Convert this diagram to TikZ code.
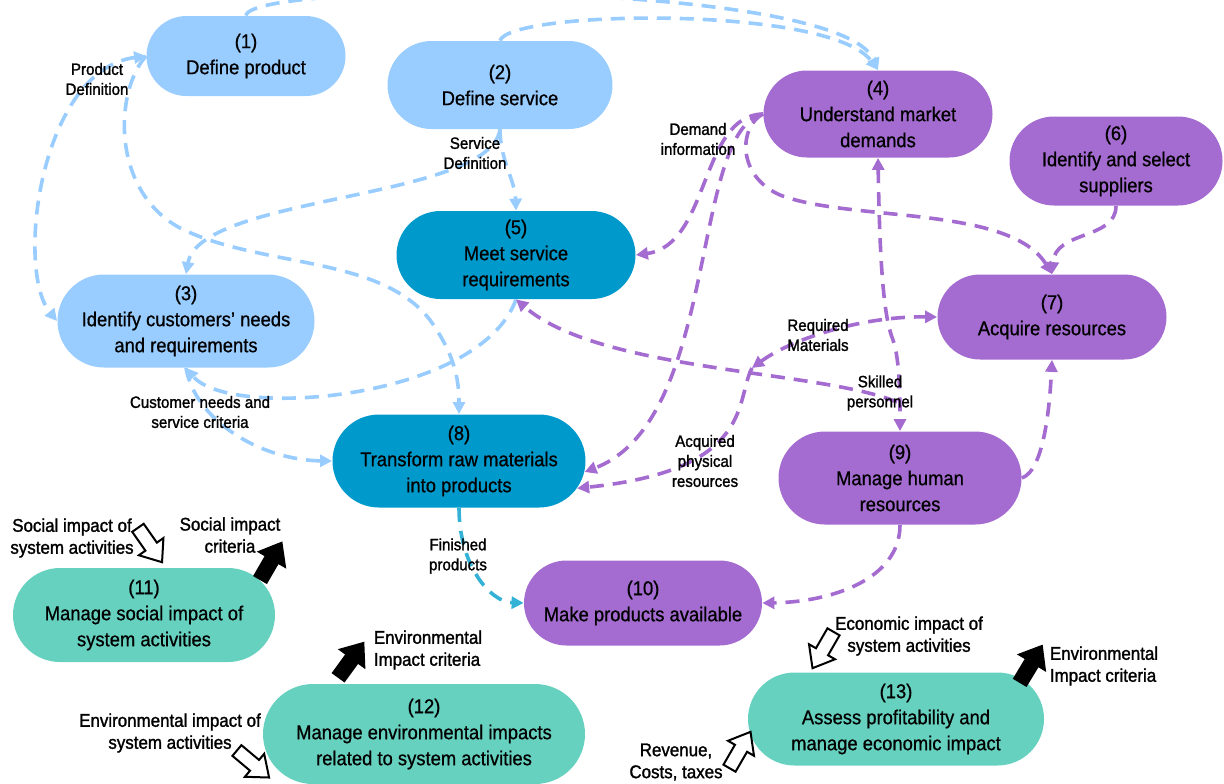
\documentclass[tikz,border=0pt]{standalone}
\usepackage{fontspec}
\setmainfont{Liberation Sans}[FakeStretch=0.92,BoldFont={Liberation Sans},BoldFeatures={FakeBold=0.7}]
\newfontfamily\lblfont{Liberation Sans}[FakeStretch=0.92,BoldFont={Liberation Sans},BoldFeatures={FakeBold=1.4}]
\usetikzlibrary{shapes.misc,arrows.meta,positioning}

\definecolor{lblue}{HTML}{99CCFF}
\definecolor{dblue}{HTML}{0099CC}
\definecolor{lilac}{HTML}{A46BD0}
\definecolor{mint}{HTML}{66D1BF}
\definecolor{cyanln}{HTML}{33B2D6}

% fat block arrow: fill, position, angle
\newcommand{\blockarrow}[3]{%
  \begin{scope}[shift={#2},rotate=#3]
    \draw[line width=1pt,fill=#1](-21,-7)--(2,-7)--(2,-15)--(21,0)--(2,15)--(2,7)--(-21,7)--cycle;
  \end{scope}}

\begin{document}
\begin{tikzpicture}[x=0.5pt,y=-0.5pt,font=\bfseries\fontsize{10}{13}\selectfont,
  >={Triangle[length=6pt,width=6pt]},
  proc/.style={rounded rectangle,inner sep=0pt,align=center},
  sz/.style 2 args={minimum width=#1*0.5pt,minimum height=#2*0.5pt},
  lbl/.style={font=\lblfont\bfseries\fontsize{8.2}{10}\selectfont,align=center,inner sep=0pt},
  imp/.style={font=\lblfont\bfseries\fontsize{9.2}{11}\selectfont,align=center,inner sep=0pt},
  flow/.style={line width=1.8pt,dash pattern=on 7pt off 4.5pt,->},
  flowb/.style={flow,draw=lblue,color=lblue},
  flowp/.style={flow,draw=lilac,color=lilac},
  flowc/.style={flow,draw=cyanln,color=cyanln}]
  \useasboundingbox(0,0)rectangle(1224,783);

  \node[proc,fill=lblue,sz={199}{80}] (n1) at (246,56) {(1)\\Define product};
  \node[proc,fill=lblue,sz={225}{88}] (n2) at (500,85) {(2)\\Define service};
  \node[proc,fill=lblue,sz={257}{93}] (n3) at (186,321) {(3)\\Identify customers’ needs\\and requirements};
  \node[proc,fill=lilac,sz={229}{87}] (n4) at (878,114) {(4)\\Understand market\\demands};
  \node[proc,fill=dblue,sz={239}{88}] (n5) at (516,255) {(5)\\Meet service\\requirements};
  \node[proc,fill=lilac,sz={213}{89}] (n6) at (1116,161) {(6)\\Identify and select\\suppliers};
  \node[proc,fill=lilac,sz={229}{85}] (n7) at (1052,317) {(7)\\Acquire resources};
  \node[proc,fill=dblue,sz={253}{93}] (n8) at (459,461) {(8)\\Transform raw materials\\into products};
  \node[proc,fill=lilac,sz={243}{93}] (n9) at (900,478) {(9)\\Manage human\\resources};
  \node[proc,fill=lilac,sz={238}{85}] (n10) at (643,603) {(10)\\Make products available};
  \node[proc,fill=mint,sz={262}{94}] (n11) at (144,615) {(11)\\Manage social impact of\\system activities};
  \node[proc,fill=mint,sz={322}{100}] (n12) at (424,734) {(12)\\Manage environmental impacts\\related to system activities};
  \node[proc,fill=mint,sz={296}{93}] (n13) at (896,719) {(13)\\Assess profitability and\\manage economic impact};

  % blue flows
  \draw[flowb](n1.north)..controls(250,-20)and(840,-20)..(n4.north);
  \draw[flowb](n2.north)..controls(510,10)and(830,5)..(n4.north);
  \draw[flowb,<->](n1.west)..controls(40,70)and(15,270)..(n3.west);
  \draw[flowb](n1.west)..controls(115,90)and(110,190)..(180,228)..controls(260,268)and(380,255)..(430,320)..controls(455,355)and(459,380)..(n8.north);
  \draw[flowb](n2.south)..controls(500,160)and(515,180)..(n5.north);
  \draw[flowb](n2.south)..controls(490,200)and(200,195)..(n3.north);
  \draw[flowb](n5.south)..controls(480,400)and(230,420)..(n3.south);
  \draw[flowb](n3.south)..controls(195,420)and(260,460)..(n8.west);
  \draw[flowc](n8.south)..controls(459,565)and(490,602)..(n10.west);

  % purple flows
  \coordinate (jskill) at (897,402);
  \coordinate (jmat) at (752,368);
  \draw[flowp](n4.west)..controls(700,115)and(710,245)..(n5.east);
  \draw[flowp](n4.west)..controls(690,130)and(720,420)..(n8.-5);
  \draw[flowp](n4.west)..controls(740,125)and(735,175)..(780,195)..controls(850,222)and(1010,205)..(n7.north);
  \draw[flowp](n6.south)..controls(1116,240)and(1055,230)..(n7.north);
  \draw[flowp](n9.east)..controls(1045,470)and(1050,400)..(n7.south);
  \draw[flowp](n9.south)..controls(900,580)and(830,602)..(n10.east);
  \draw[flowp,<->](n4.south)..controls(880,280)and(885,320)..(893,340)..controls(900,360)and(900,400)..(n9.north);
  \draw[flowp](jskill)..controls(820,370)and(600,372)..(n5.south);
  \draw[flowp,<->](jmat)..controls(790,340)and(860,316)..(n7.west);
  \draw[flowp](jmat)..controls(735,400)and(755,470)..(n8.-13);

  % flow labels
  \node[lbl] (lprod) at (97,79) {Product\\Definition};
  \node[lbl] (lserv) at (475,153) {Service\\Definition};
  \node[lbl] (ldem) at (698,139) {Demand\\information};
  \node[lbl] (lcust) at (200,412) {Customer needs and\\service criteria};
  \node[lbl] (lmat) at (818,335) {Required\\Materials};
  \node[lbl] (lskill) at (880,393) {Skilled\\personnel};
  \node[lbl] (lacq) at (705,461) {Acquired\\physical\\resources};
  \node[lbl] (lfin) at (458,556) {Finished\\products};

  % impacts
  \blockarrow{white}{(150,545)}{-55}
  \blockarrow{black}{(271,561)}{60}
  \blockarrow{black}{(351,660)}{54}
  \blockarrow{white}{(253,764)}{-40}
  \blockarrow{white}{(823,650)}{-120}
  \blockarrow{black}{(1031,664)}{59}
  \blockarrow{white}{(740,750)}{60}
  \node[imp] (lsoc) at (72,538) {Social impact of\\system activities};
  \node[imp] (lsocc) at (230,535) {Social impact\\criteria};
  \node[imp,align=left] (lenv) at (428,650) {Environmental\\Impact criteria};
  \node[imp] (lenvi) at (170,733) {Environmental impact of\\system activities};
  \node[imp] (leco) at (909,636) {Economic impact of\\system activities};
  \node[imp,align=left] (lenvr) at (1104,666) {Environmental\\Impact criteria};
  \node[imp] (lrev) at (676,762) {Revenue,\\Costs, taxes};
\end{tikzpicture}
\end{document}
